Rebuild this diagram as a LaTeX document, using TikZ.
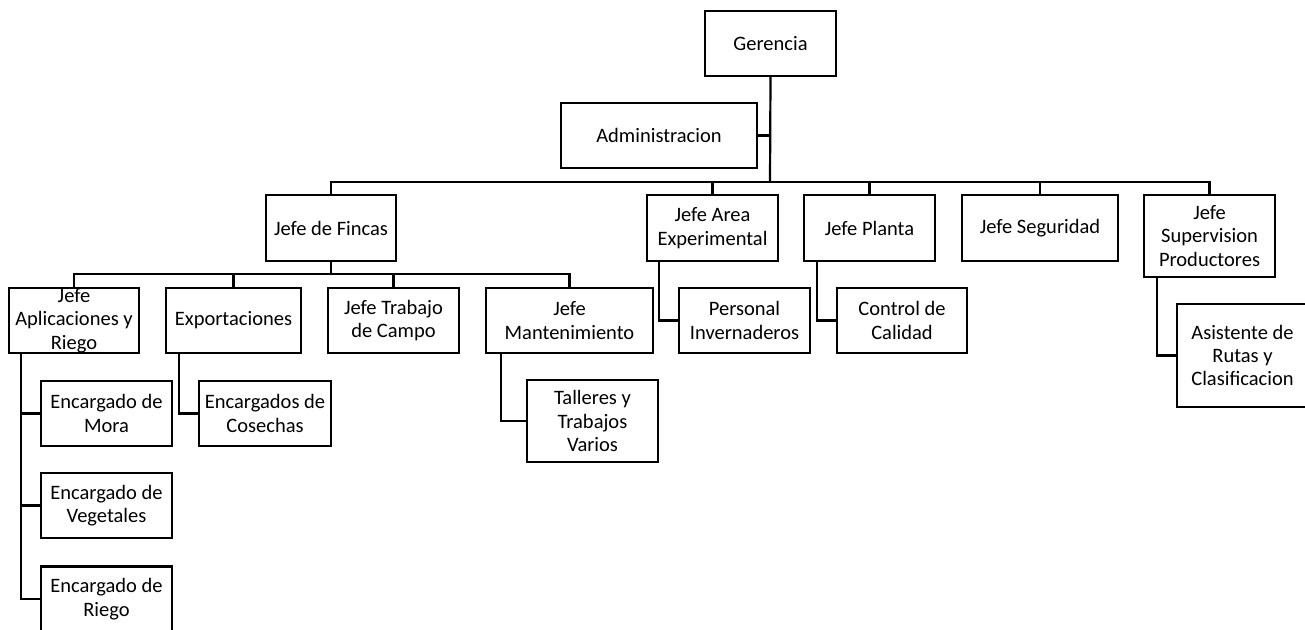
\documentclass[tikz,border=0pt]{standalone}
\usepackage{fontspec}
\setmainfont{Carlito}
\begin{document}
\begin{tikzpicture}[x=1pt,y=-1pt,
  box/.style={draw=black, line width=2.2pt, fill=white, inner sep=0pt, align=center,
    font=\fontsize{20.5}{23.4}\selectfont, minimum height=65pt},
  conn/.style={draw=black, line width=2.2pt}]
\useasboundingbox (0,0) rectangle (1305,629);
\clip (0,0) rectangle (1305,629);
% level 0/1
\node[box, minimum width=131pt] (ger) at (770.5,43.5) {Gerencia};
\node[box, minimum width=196pt] (adm) at (659,135.5) {Administracion};
% level 2
\node[box, minimum width=130pt, minimum height=66pt] (fin) at (331,228) {Jefe de Fincas};
\node[box, minimum width=131pt, minimum height=66pt] (ae) at (712.5,228) {Jefe Area\\Experimental};
\node[box, minimum width=131pt, minimum height=66pt] (pla) at (869.5,228) {Jefe Planta};
\node[box, minimum width=156pt, minimum height=66pt] (seg) at (1040,228) {Jefe Seguridad};
\node[box, minimum width=131pt, minimum height=82pt] (sup) at (1209.5,236) {Jefe\\Supervision\\Productores};
% level 3
\node[box, minimum width=130pt] (apl) at (74,320.5) {Jefe\\Aplicaciones y\\Riego};
\node[box, minimum width=135pt] (exp) at (233.5,320.5) {Exportaciones};
\node[box, minimum width=131pt] (tra) at (393.5,320.5) {Jefe Trabajo\\de Campo};
\node[box, minimum width=167pt] (man) at (569.5,320.5) {Jefe\\Mantenimiento};
\node[box, minimum width=131pt] (per) at (744.5,320.5) {Personal\\Invernaderos};
\node[box, minimum width=130pt] (cal) at (902,320.5) {Control de\\Calidad};
\node[box, minimum width=131pt, minimum height=103pt] (asi) at (1242.5,355.5) {Asistente de\\Rutas y\\Clasificacion};
% level 4
\node[box, minimum width=131pt] (mor) at (106.5,413.5) {Encargado de\\Mora};
\node[box, minimum width=131pt] (veg) at (106.5,505.5) {Encargado de\\Vegetales};
\node[box, minimum width=131pt] (rie) at (106.5,599) {Encargado de\\Riego};
\node[box, minimum width=132pt] (cos) at (265,413.5) {Encargados de\\Cosechas};
\node[box, minimum width=131pt, minimum height=82pt] (tal) at (592.5,421) {Talleres y\\Trabajos\\Varios};
% connectors
\coordinate (bus1) at (770,182);
\coordinate (bus2) at (331,274);
\draw[conn] (ger.south) -- (bus1);
\draw[conn] (adm.east) -- (adm.east -| bus1);
\draw[conn] (fin.north) |- (bus1) -| (sup.north);
\draw[conn] (ae.north) -- (ae.north |- bus1);
\draw[conn] (pla.north) -- (pla.north |- bus1);
\draw[conn] (seg.north) -- (seg.north |- bus1);
\draw[conn] (fin.south) -- (bus2);
\draw[conn] (apl.north) |- (bus2) -| (man.north);
\draw[conn] (exp.north) -- (exp.north |- bus2);
\draw[conn] (tra.north) -- (tra.north |- bus2);
\draw[conn] ([xshift=13pt]apl.south west) |- (rie.west);
\draw[conn] ([xshift=13pt]apl.south west |- mor.west) -- (mor.west);
\draw[conn] ([xshift=13pt]apl.south west |- veg.west) -- (veg.west);
\draw[conn] ([xshift=14pt]exp.south west) |- (cos.west);
\draw[conn] ([xshift=16pt]man.south west) |- (tal.west);
\draw[conn] ([xshift=13pt]ae.south west) |- (per.west);
\draw[conn] ([xshift=14pt]pla.south west) |- (cal.west);
\draw[conn] ([xshift=14pt]sup.south west) |- (asi.west);
\end{tikzpicture}
\end{document}
